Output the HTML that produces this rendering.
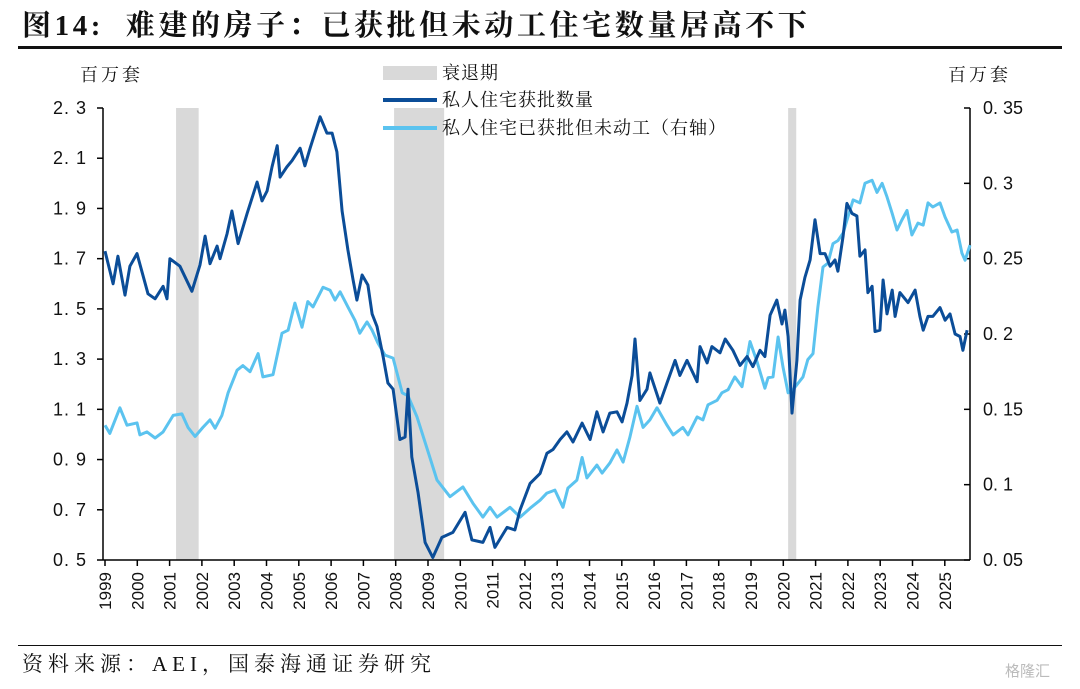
<!DOCTYPE html>
<html><head><meta charset="utf-8">
<style>
html,body{margin:0;padding:0;background:#fff;}
body{width:1080px;height:689px;position:relative;overflow:hidden;font-family:"Liberation Serif","Noto Serif CJK SC",serif;}
#title{position:absolute;left:22px;top:3px;font-size:29px;letter-spacing:3.6px;font-weight:bold;color:#111;white-space:nowrap;font-family:"Liberation Serif","Noto Serif CJK SC",serif;}
#rule1{position:absolute;left:18px;top:46px;width:1044px;height:3px;background:#111;}
#rule2{position:absolute;left:18px;top:645px;width:1044px;height:1px;background:#111;}
#source{position:absolute;left:22px;top:648px;font-size:21px;letter-spacing:5px;color:#111;white-space:nowrap;}
#wm{position:absolute;left:1005px;top:660px;font-size:15px;color:#bbb;font-family:"Liberation Sans","Noto Sans CJK SC",sans-serif;}
svg{position:absolute;left:0;top:0;}
</style></head>
<body>
<div id="title">图14:&nbsp; 难建的房子：已获批但未动工住宅数量居高不下</div>
<div id="rule1"></div>
<svg id="chart" width="1080" height="689"></svg>
<div id="rule2"></div>
<div id="source">资料来源：AEI，国泰海通证券研究</div>
<div id="wm">格隆汇</div>
<script>
const years = [1999,2000,2001,2002,2003,2004,2005,2006,2007,2008,2009,2010,2011,2012,2013,2014,2015,2016,2017,2018,2019,2020,2021,2022,2023,2024,2025];
const leftTicks = [0.5,0.7,0.9,1.1,1.3,1.5,1.7,1.9,2.1,2.3];
const rightTicks = [0.05,0.1,0.15,0.2,0.25,0.3,0.35];
const recessionStart = [2001.2,2007.95,2020.15];
const recessionEnd = [2001.9,2009.5,2020.4];

const permitDates = [1999.00,1999.25,1999.40,1999.62,1999.77,1999.99,2000.33,2000.55,2000.80,2000.92,2001.01,2001.32,2001.69,2001.94,2002.10,2002.25,2002.47,2002.56,2002.78,2002.93,2003.12,2003.40,2003.71,2003.86,2004.02,2004.17,2004.33,2004.42,2004.63,2004.79,2005.04,2005.19,2005.35,2005.50,2005.66,2005.87,2006.03,2006.18,2006.34,2006.52,2006.68,2006.80,2006.96,2007.14,2007.27,2007.42,2007.61,2007.76,2007.92,2008.13,2008.29,2008.38,2008.50,2008.69,2008.91,2009.15,2009.43,2009.77,2010.15,2010.36,2010.70,2010.92,2011.07,2011.45,2011.69,2011.85,2012.16,2012.47,2012.68,2012.87,2013.09,2013.30,2013.49,2013.77,2014.02,2014.23,2014.42,2014.63,2014.85,2015.01,2015.16,2015.32,2015.41,2015.56,2015.78,2015.87,2016.18,2016.40,2016.65,2016.80,2017.02,2017.33,2017.42,2017.64,2017.79,2018.04,2018.20,2018.44,2018.66,2018.88,2019.06,2019.28,2019.43,2019.59,2019.80,2019.96,2020.05,2020.15,2020.27,2020.42,2020.52,2020.67,2020.83,2020.98,2021.14,2021.29,2021.45,2021.60,2021.69,2021.85,2021.97,2022.13,2022.28,2022.37,2022.53,2022.62,2022.75,2022.84,2022.99,2023.09,2023.21,2023.37,2023.46,2023.61,2023.86,2024.08,2024.23,2024.33,2024.48,2024.63,2024.85,2025.01,2025.16,2025.32,2025.47,2025.56,2025.69];
const permitValues = [1.73,1.60,1.71,1.555,1.67,1.72,1.56,1.54,1.59,1.54,1.70,1.67,1.57,1.675,1.79,1.68,1.75,1.70,1.80,1.89,1.76,1.88,2.005,1.93,1.97,2.065,2.15,2.025,2.065,2.09,2.14,2.07,2.14,2.20,2.265,2.20,2.20,2.125,1.89,1.735,1.615,1.535,1.635,1.595,1.48,1.43,1.31,1.205,1.18,0.98,0.99,1.18,0.91,0.77,0.57,0.51,0.59,0.61,0.69,0.58,0.57,0.63,0.55,0.63,0.62,0.70,0.805,0.845,0.925,0.94,0.98,1.01,0.97,1.045,0.98,1.09,1.01,1.085,1.09,1.05,1.125,1.235,1.38,1.135,1.18,1.245,1.125,1.205,1.295,1.235,1.295,1.21,1.35,1.285,1.35,1.325,1.38,1.335,1.275,1.31,1.27,1.335,1.31,1.475,1.535,1.44,1.495,1.39,1.085,1.295,1.535,1.625,1.695,1.855,1.72,1.72,1.67,1.695,1.65,1.79,1.92,1.88,1.87,1.71,1.735,1.565,1.59,1.41,1.415,1.615,1.48,1.575,1.47,1.565,1.525,1.575,1.47,1.415,1.47,1.47,1.505,1.455,1.48,1.40,1.39,1.335,1.415];

const backlogDates = [1999.00,1999.15,1999.46,1999.68,1999.99,2000.08,2000.30,2000.55,2000.80,2001.11,2001.38,2001.57,2001.79,2002.03,2002.25,2002.41,2002.62,2002.81,2003.09,2003.27,2003.49,2003.74,2003.89,2004.20,2004.48,2004.67,2004.88,2005.10,2005.28,2005.44,2005.75,2005.97,2006.12,2006.28,2006.52,2006.74,2006.89,2007.11,2007.27,2007.45,2007.67,2007.92,2008.20,2008.38,2008.66,2009.06,2009.28,2009.68,2010.08,2010.39,2010.70,2010.92,2011.14,2011.54,2011.85,2012.16,2012.47,2012.68,2012.93,2013.18,2013.33,2013.61,2013.77,2013.92,2014.23,2014.39,2014.63,2014.85,2015.04,2015.25,2015.47,2015.66,2015.87,2016.09,2016.40,2016.59,2016.89,2017.05,2017.33,2017.51,2017.67,2017.95,2018.10,2018.29,2018.50,2018.72,2018.97,2019.19,2019.43,2019.53,2019.68,2019.84,2019.99,2020.15,2020.30,2020.46,2020.61,2020.76,2020.92,2021.07,2021.23,2021.38,2021.54,2021.69,2021.85,2022.00,2022.16,2022.37,2022.53,2022.75,2022.90,2023.06,2023.21,2023.37,2023.52,2023.67,2023.83,2023.98,2024.17,2024.33,2024.48,2024.63,2024.85,2025.01,2025.22,2025.38,2025.53,2025.63,2025.78];
const backlogValues = [0.1395,0.134,0.151,0.1395,0.141,0.133,0.135,0.131,0.135,0.146,0.147,0.138,0.132,0.138,0.143,0.1375,0.146,0.161,0.176,0.179,0.175,0.187,0.1715,0.173,0.2005,0.2025,0.2205,0.2045,0.2215,0.218,0.231,0.229,0.2225,0.228,0.218,0.209,0.2005,0.208,0.2025,0.194,0.186,0.184,0.161,0.159,0.145,0.118,0.103,0.092,0.0985,0.0877,0.0785,0.085,0.0785,0.085,0.0785,0.0844,0.0897,0.0944,0.0964,0.085,0.0977,0.103,0.118,0.1045,0.113,0.1077,0.1143,0.123,0.115,0.1315,0.152,0.138,0.143,0.151,0.1395,0.133,0.138,0.133,0.145,0.143,0.153,0.156,0.161,0.163,0.1715,0.165,0.195,0.1815,0.164,0.171,0.1715,0.198,0.178,0.161,0.163,0.1674,0.1715,0.183,0.187,0.218,0.2445,0.247,0.26,0.262,0.267,0.2776,0.289,0.287,0.300,0.302,0.294,0.300,0.291,0.280,0.269,0.2756,0.282,0.2657,0.2736,0.2723,0.287,0.2843,0.287,0.2776,0.2677,0.269,0.2537,0.249,0.259];

const NS = "http://www.w3.org/2000/svg";
const svg = document.getElementById('chart');
const X0 = 105, XPY = 32.3, YTOP = 108, YBOT = 560, AXL = 103, AXR = 970;
function xs(t){ return X0 + (t - 1999) * XPY; }
function yl(v){ return YBOT - (v - 0.5) / (2.3 - 0.5) * (YBOT - YTOP); }
function yr(v){ return YBOT - (v - 0.05) / (0.35 - 0.05) * (YBOT - YTOP); }
function mk(tag, attrs){ const e = document.createElementNS(NS, tag); for (const k in attrs) e.setAttribute(k, attrs[k]); svg.appendChild(e); return e; }
const sansFont = '"Liberation Sans","Noto Sans CJK SC",sans-serif';
const serifFont = '"Liberation Serif","Noto Serif CJK SC",serif';

for (let i = 0; i < recessionStart.length; i++) {
  const r = mk('rect', {x: xs(recessionStart[i]), y: YTOP, width: xs(recessionEnd[i]) - xs(recessionStart[i]), height: YBOT - YTOP, fill: '#d9d9d9'});
  
  
}

const axL = mk('line', {x1: AXL, y1: YTOP, x2: AXL, y2: YBOT, stroke: '#000', 'stroke-width': 1.5});


const axR = mk('line', {x1: AXR, y1: YTOP, x2: AXR, y2: YBOT, stroke: '#000', 'stroke-width': 1.5});


const axX = mk('line', {x1: AXL, y1: YBOT, x2: AXR, y2: YBOT, stroke: '#000', 'stroke-width': 1.5});



leftTicks.forEach(v => {
  const y = yl(v);
  mk('line', {x1: AXL - 6, y1: y, x2: AXL, y2: y, stroke: '#000', 'stroke-width': 1.5});
  const t = mk('text', {x: 87, y: y + 6, 'text-anchor': 'end', 'font-size': 18, 'font-family': sansFont, fill: '#111', 'letter-spacing': '1'});
  t.textContent = v.toFixed(1).replace('.', '. ');
  
  
});
rightTicks.forEach(v => {
  const y = yr(v);
  mk('line', {x1: AXR - 6, y1: y, x2: AXR, y2: y, stroke: '#000', 'stroke-width': 1.5});
  const t = mk('text', {x: 983, y: y + 6, 'text-anchor': 'start', 'font-size': 18, 'font-family': sansFont, fill: '#111'});
  t.textContent = String(v).replace('.', '. ');
  
  
});
years.forEach(yv => {
  const x = xs(yv);
  mk('line', {x1: x, y1: YBOT, x2: x, y2: YBOT + 6, stroke: '#000', 'stroke-width': 1.5});
  const t = mk('text', {x: 0, y: 0, 'text-anchor': 'end', 'font-size': 17, 'font-family': sansFont, fill: '#111', transform: 'translate(' + (x + 6) + ',' + (YBOT + 12) + ') rotate(-90)'});
  t.textContent = yv;
  
  
});

const ul = mk('text', {x: 80, y: 81, 'font-size': 18, 'font-family': serifFont, fill: '#111', 'letter-spacing': '3'});
ul.textContent = '百万套';


const ur = mk('text', {x: 948, y: 81, 'font-size': 18, 'font-family': serifFont, fill: '#111', 'letter-spacing': '3'});
ur.textContent = '百万套';



function path(dates, vals, yf){ return dates.map((d, i) => (i ? 'L' : 'M') + xs(d).toFixed(1) + ',' + yf(vals[i]).toFixed(1)).join(''); }
const pB = mk('path', {d: path(backlogDates, backlogValues, yr), fill: 'none', stroke: '#5bc3ef', 'stroke-width': 3, 'stroke-linejoin': 'round'});


const pP = mk('path', {d: path(permitDates, permitValues, yl), fill: 'none', stroke: '#0b4d98', 'stroke-width': 3, 'stroke-linejoin': 'round'});



const lg = [
  {kind: 'rect', color: '#d9d9d9', label: '衰退期', y: 73, name: 'legend-recession'},
  {kind: 'line', color: '#0b4d98', label: '私人住宅获批数量', y: 100, name: 'legend-permits'},
  {kind: 'line', color: '#5bc3ef', label: '私人住宅已获批但未动工（右轴）', y: 128, name: 'legend-backlog'}
];
lg.forEach(e => {
  if (e.kind === 'rect') mk('rect', {x: 383, y: e.y - 7, width: 54, height: 14, fill: e.color});
  else mk('line', {x1: 383, y1: e.y, x2: 437, y2: e.y, stroke: e.color, 'stroke-width': 4});
  const t = mk('text', {x: 442, y: e.y + 6, 'font-size': 18, 'font-family': serifFont, fill: '#111', 'letter-spacing': '1'});
  t.textContent = e.label;
  
  
});
</script>
</body></html>
